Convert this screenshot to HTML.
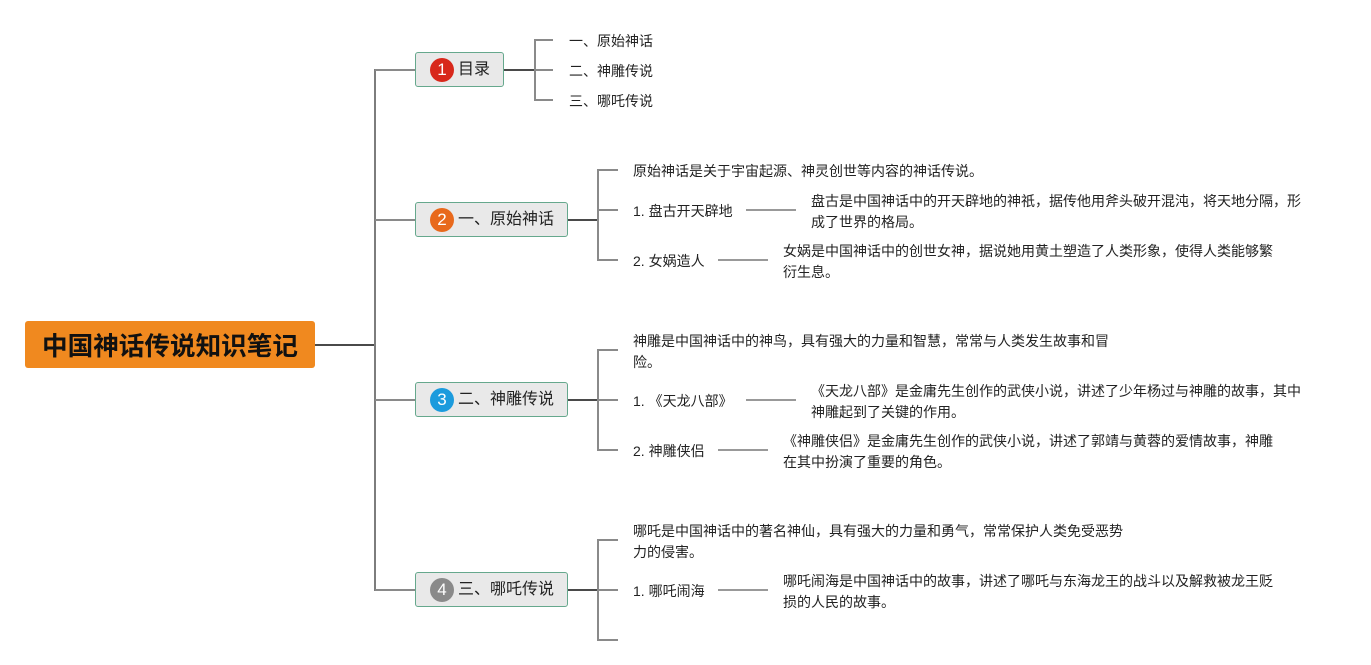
<!DOCTYPE html>
<html>
<head>
<meta charset="utf-8">
<style>
  html,body{margin:0;padding:0;background:#fff;}
  body{width:1371px;height:665px;position:relative;overflow:hidden;
       font-family:"Liberation Sans","Noto Sans CJK SC",sans-serif;color:#222;}
  svg{position:absolute;left:0;top:0;}
  .main{position:absolute;left:25px;top:321px;width:290px;height:47px;background:#F0891F;
        border-radius:3px;text-align:center;line-height:47px;font-size:25.6px;font-weight:bold;color:#111;
        font-family:"Noto Sans CJK SC","WenQuanYi Zen Hei",sans-serif;}
  .br{position:absolute;left:415px;height:33px;background:#E9E9E9;border:1px solid #66A88D;border-radius:3px;box-sizing:content-box;}
  .br .c{position:absolute;left:14px;top:5px;width:24px;height:24px;border-radius:50%;color:#fff;
         font-size:17px;line-height:24px;text-align:center;font-family:"Liberation Sans",sans-serif;}
  .br .t{position:absolute;left:42px;top:0;line-height:33px;font-size:16px;color:#222;white-space:nowrap;
         font-family:"Liberation Sans","Noto Sans CJK SC",sans-serif;}
  .l{position:absolute;font-size:14px;line-height:21px;white-space:nowrap;color:#222;}
  .d{position:absolute;font-size:14px;line-height:20.5px;white-space:nowrap;color:#222;}
</style>
</head>
<body>
<svg width="1371" height="665" viewBox="0 0 1371 665">
  <g fill="none" stroke-linecap="butt">
    <!-- main connector -->
    <line x1="315" y1="345" x2="375" y2="345" stroke="#4a4a4a" stroke-width="2"/>
    <!-- trunk -->
    <line x1="375" y1="69" x2="375" y2="591" stroke="#7d7d7d" stroke-width="2"/>
    <line x1="375" y1="70" x2="415" y2="70" stroke="#8a8a8a" stroke-width="2"/>
    <line x1="375" y1="220" x2="415" y2="220" stroke="#8a8a8a" stroke-width="2"/>
    <line x1="375" y1="400" x2="415" y2="400" stroke="#8a8a8a" stroke-width="2"/>
    <line x1="375" y1="590" x2="415" y2="590" stroke="#8a8a8a" stroke-width="2"/>

    <!-- node 1 -->
    <line x1="504" y1="70" x2="535" y2="70" stroke="#4a4a4a" stroke-width="2"/>
    <line x1="535" y1="39" x2="535" y2="101" stroke="#8a8a8a" stroke-width="2"/>
    <line x1="535" y1="40" x2="553" y2="40" stroke="#8a8a8a" stroke-width="2"/>
    <line x1="535" y1="70" x2="553" y2="70" stroke="#8a8a8a" stroke-width="2"/>
    <line x1="535" y1="100" x2="553" y2="100" stroke="#8a8a8a" stroke-width="2"/>

    <!-- node 2 -->
    <line x1="568" y1="220" x2="598" y2="220" stroke="#4a4a4a" stroke-width="2"/>
    <line x1="598" y1="169" x2="598" y2="261" stroke="#8a8a8a" stroke-width="2"/>
    <line x1="598" y1="170" x2="618" y2="170" stroke="#8a8a8a" stroke-width="2"/>
    <line x1="598" y1="210" x2="618" y2="210" stroke="#8a8a8a" stroke-width="2"/>
    <line x1="598" y1="260" x2="618" y2="260" stroke="#8a8a8a" stroke-width="2"/>
    <line x1="746" y1="210" x2="796" y2="210" stroke="#999" stroke-width="2"/>
    <line x1="718" y1="260" x2="768" y2="260" stroke="#999" stroke-width="2"/>

    <!-- node 3 -->
    <line x1="568" y1="400" x2="598" y2="400" stroke="#4a4a4a" stroke-width="2"/>
    <line x1="598" y1="349" x2="598" y2="451" stroke="#8a8a8a" stroke-width="2"/>
    <line x1="598" y1="350" x2="618" y2="350" stroke="#8a8a8a" stroke-width="2"/>
    <line x1="598" y1="400" x2="618" y2="400" stroke="#8a8a8a" stroke-width="2"/>
    <line x1="598" y1="450" x2="618" y2="450" stroke="#8a8a8a" stroke-width="2"/>
    <line x1="746" y1="400" x2="796" y2="400" stroke="#999" stroke-width="2"/>
    <line x1="718" y1="450" x2="768" y2="450" stroke="#999" stroke-width="2"/>

    <!-- node 4 -->
    <line x1="568" y1="590" x2="598" y2="590" stroke="#4a4a4a" stroke-width="2"/>
    <line x1="598" y1="539" x2="598" y2="641" stroke="#8a8a8a" stroke-width="2"/>
    <line x1="598" y1="540" x2="618" y2="540" stroke="#8a8a8a" stroke-width="2"/>
    <line x1="598" y1="590" x2="618" y2="590" stroke="#8a8a8a" stroke-width="2"/>
    <line x1="598" y1="640" x2="618" y2="640" stroke="#8a8a8a" stroke-width="2"/>
    <line x1="718" y1="590" x2="768" y2="590" stroke="#999" stroke-width="2"/>
  </g>
</svg>

<div class="main">中国神话传说知识笔记</div>

<div class="br" style="top:52px;width:87px;"><div class="c" style="background:#D8281B;">1</div><div class="t">目录</div></div>
<div class="br" style="top:202px;width:151px;"><div class="c" style="background:#E8691C;">2</div><div class="t">一、原始神话</div></div>
<div class="br" style="top:382px;width:151px;"><div class="c" style="background:#1C9BDD;">3</div><div class="t">二、神雕传说</div></div>
<div class="br" style="top:572px;width:151px;"><div class="c" style="background:#8A8A8A;">4</div><div class="t">三、哪吒传说</div></div>

<!-- node 1 children -->
<div class="l" style="left:569px;top:30.5px;">一、原始神话</div>
<div class="l" style="left:569px;top:60.5px;">二、神雕传说</div>
<div class="l" style="left:569px;top:90.5px;">三、哪吒传说</div>

<!-- node 2 children -->
<div class="l" style="left:633px;top:160.5px;">原始神话是关于宇宙起源、神灵创世等内容的神话传说。</div>
<div class="l" style="left:633px;top:200.5px;">1. 盘古开天辟地</div>
<div class="l" style="left:633px;top:250.5px;">2. 女娲造人</div>
<div class="d" style="left:811px;top:191px;">盘古是中国神话中的开天辟地的神祇，据传他用斧头破开混沌，将天地分隔，形<br>成了世界的格局。</div>
<div class="d" style="left:783px;top:241px;">女娲是中国神话中的创世女神，据说她用黄土塑造了人类形象，使得人类能够繁<br>衍生息。</div>

<!-- node 3 children -->
<div class="d" style="left:633px;top:331px;">神雕是中国神话中的神鸟，具有强大的力量和智慧，常常与人类发生故事和冒<br>险。</div>
<div class="l" style="left:633px;top:390.5px;">1. 《天龙八部》</div>
<div class="l" style="left:633px;top:440.5px;">2. 神雕侠侣</div>
<div class="d" style="left:811px;top:381px;">《天龙八部》是金庸先生创作的武侠小说，讲述了少年杨过与神雕的故事，其中<br>神雕起到了关键的作用。</div>
<div class="d" style="left:783px;top:431px;">《神雕侠侣》是金庸先生创作的武侠小说，讲述了郭靖与黄蓉的爱情故事，神雕<br>在其中扮演了重要的角色。</div>

<!-- node 4 children -->
<div class="d" style="left:633px;top:521px;">哪吒是中国神话中的著名神仙，具有强大的力量和勇气，常常保护人类免受恶势<br>力的侵害。</div>
<div class="l" style="left:633px;top:580.5px;">1. 哪吒闹海</div>
<div class="d" style="left:783px;top:571px;">哪吒闹海是中国神话中的故事，讲述了哪吒与东海龙王的战斗以及解救被龙王贬<br>损的人民的故事。</div>
</body>
</html>
